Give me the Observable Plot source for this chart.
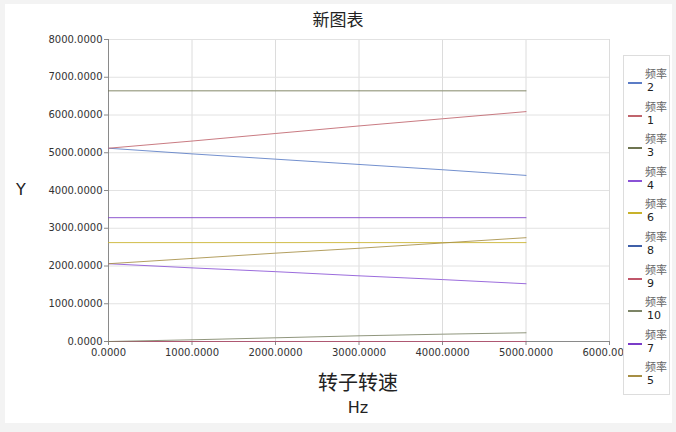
<!DOCTYPE html>
<html><head><meta charset="utf-8">
<script src="https://cdn.jsdelivr.net/npm/d3@7"></script>
<script src="https://cdn.jsdelivr.net/npm/@observablehq/plot@0.6"></script>
<style>
html,body{margin:0;padding:0;background:#f3f3f3;}
#wrap{position:relative;width:676px;height:432px;overflow:hidden;}
#panel{position:absolute;left:5px;top:4px;width:667px;height:419px;background:#fff;}
#chart{position:absolute;left:0;top:0;}
.t{position:absolute;font-family:"Noto Sans CJK SC","DejaVu Sans",sans-serif;color:#222;white-space:nowrap;line-height:1;}
#legend{position:absolute;left:623px;top:55px;width:45px;height:338px;border:1px solid #ddd;background:#fff;font-family:"Noto Sans CJK SC","DejaVu Sans",sans-serif;}
.li{position:absolute;left:0;width:45px;height:32px;}
.sw{position:absolute;left:4px;top:16px;width:14px;height:2px;}
.l1{position:absolute;left:21px;top:0px;font-size:11px;color:#666;line-height:14px;white-space:nowrap;}
.l2{position:absolute;left:23px;top:15px;font-size:11px;color:#222;line-height:14px;white-space:nowrap;font-family:"DejaVu Sans",sans-serif;}
</style></head>
<body>
<div id="wrap">
<div id="panel"></div>
<div id="chart"></div>
<div class="t" style="left:0;width:676px;text-align:center;top:10px;font-size:17px;">新图表</div>
<div class="t" style="left:16px;top:182px;font-size:16px;font-family:'DejaVu Sans',sans-serif;">Y</div>
<div class="t" style="left:258px;width:200px;text-align:center;top:372px;font-size:20px;">转子转速</div>
<div class="t" style="left:258px;width:200px;text-align:center;top:400px;font-size:16px;font-family:'DejaVu Sans',sans-serif;">Hz</div>
<div id="legend"></div>
</div>
<script>
const speeds = [0, 1000, 2000, 3000, 4000, 5000];
const seriesNames = ["2", "1", "3", "4", "6", "8", "9", "10", "7", "5"];
const seriesColors = ["#5b7cc6", "#c0646c", "#6e7450", "#8a52d6", "#c8b22a", "#3f5fa8", "#c0566a", "#7c8466", "#7a3cc8", "#a68e44"];
const f2  = [5120, 4970, 4830, 4690, 4550, 4400];
const f1  = [5120, 5310, 5510, 5710, 5900, 6090];
const f3  = [6640, 6640, 6640, 6640, 6640, 6640];
const f4  = [2060, 1950, 1850, 1740, 1640, 1530];
const f6  = [2620, 2620, 2620, 2620, 2620, 2620];
const f8  = [0, 0, 0, 0, 0, 0];
const f9  = [0, 0, 0, 0, 0, 0];
const f10 = [0, 45, 98, 151, 194, 231];
const f7  = [3280, 3280, 3280, 3280, 3280, 3280];
const f5  = [2060, 2200, 2340, 2470, 2610, 2750];
const xTicks = [0, 1000, 2000, 3000, 4000, 5000, 6000];
const yTicks = [0, 1000, 2000, 3000, 4000, 5000, 6000, 7000, 8000];

const seriesValues = [f2, f1, f3, f4, f6, f8, f9, f10, f7, f5];
const rows = [];
seriesNames.forEach((n, i) => speeds.forEach((s, j) => rows.push({series: n, x: s, y: seriesValues[i][j]})));

const fmt = d3.format(".4f");
const plot = Plot.plot({
  width: 676, height: 432,
  marginLeft: 108, marginRight: 67, marginTop: 39, marginBottom: 91,
  style: {background: "transparent", fontFamily: "'DejaVu Sans', sans-serif", fontSize: "10px", color: "#333"},
  x: {domain: [0, 6000]},
  y: {domain: [0, 8000]},
  color: {domain: seriesNames, range: seriesColors},
  marks: [
    Plot.gridX(xTicks, {stroke: "#dcdcdc", strokeOpacity: 1}),
    Plot.gridY(yTicks, {stroke: "#e2e2e2", strokeOpacity: 1}),
    Plot.ruleX([0], {stroke: "#8a8a8a"}),
    Plot.ruleY([0], {stroke: "#8a8a8a"}),
    Plot.axisX(xTicks, {tickFormat: fmt, tickSize: 4, stroke: "#8a8a8a", label: null, fill: "#333", tickPadding: 3}),
    Plot.axisY(yTicks, {tickFormat: fmt, tickSize: 4, stroke: "#8a8a8a", label: null, fill: "#333", tickPadding: 2}),
    Plot.line(rows, {x: "x", y: "y", z: "series", stroke: "series", strokeWidth: 1, strokeOpacity: 0.85})
  ]
});
document.getElementById("chart").appendChild(plot);

const lg = document.getElementById("legend");
seriesNames.forEach((n, i) => {
  const d = document.createElement("div");
  d.className = "li";
  d.style.top = (10 + i * 32.6) + "px";
  d.innerHTML = `<div class="sw" style="background:${seriesColors[i]}"></div><div class="l1">频率</div><div class="l2">${n}</div>`;
  lg.appendChild(d);
});
</script>
</body></html>
